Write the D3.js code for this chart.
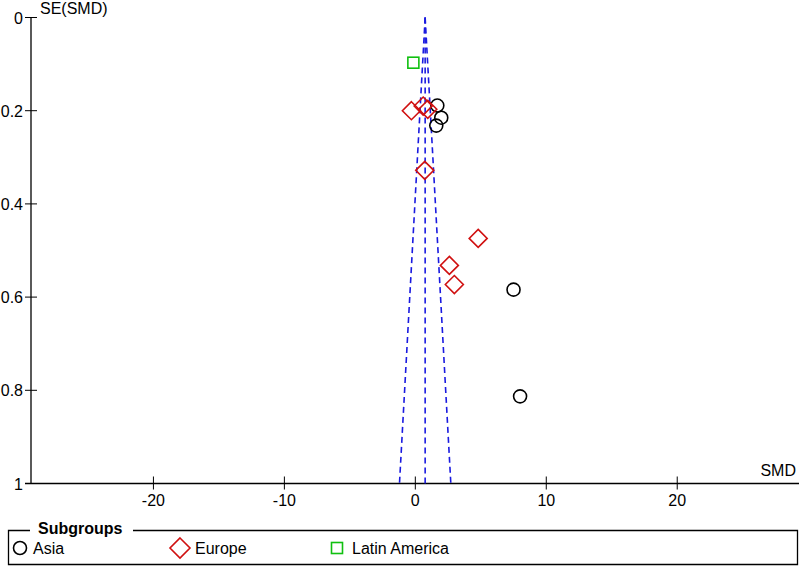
<!doctype html>
<html lang="en">
<head>
  <meta charset="utf-8">
  <script src="https://d3js.org/d3.v7.min.js"></script>
  <style>
    body { margin: 0; background: #fff; }
    text { font-family: "Liberation Sans", Arial, sans-serif; font-size: 16px; fill: #000; }
  </style>
</head>
<body>
  <script>
    var width = 800,
        height = 567;

    // studies, per subgroup: [SMD, SE(SMD)]
    var asia = [[1.68, 0.189], [1.98, 0.215], [1.6, 0.232], [7.5, 0.584], [8.0, 0.813]];
    var europe = [[-0.3, 0.200], [0.6, 0.190], [0.95, 0.197], [0.72, 0.328],
                  [4.8, 0.474], [2.6, 0.532], [2.98, 0.573]];
    var latinAmerica = [[-0.15, 0.097]];

    var pooledSMD = 0.75;
    var xTicks = [-20, -10, 0, 10, 20];
    var yTicks = [0, 0.2, 0.4, 0.6, 0.8, 1];
    var groups = ["Asia", "Europe", "Latin America"];

    var x = d3.scaleLinear().domain([-29.35, 29.3]).range([31, 799]);
    var y = d3.scaleLinear().domain([0, 1]).range([17.5, 483.5]);

    var svg = d3.select("body").append("svg")
        .attr("width", width)
        .attr("height", height);

    // axes
    var yAxis = svg.append("g").attr("transform", "translate(31,0)");
    yAxis.append("line").attr("y1", y(0)).attr("y2", y(1)).attr("stroke", "#000").attr("stroke-width", 1.3);
    yAxis.selectAll(".t").data(yTicks).enter().append("line")
        .attr("x1", -6).attr("x2", 6)
        .attr("y1", function(d) { return y(d); })
        .attr("y2", function(d) { return y(d); })
        .attr("stroke", "#000");
    yAxis.selectAll("text").data(yTicks).enter().append("text")
        .attr("x", -8)
        .attr("y", function(d) { return y(d) + 6; })
        .attr("text-anchor", "end")
        .text(function(d) { return d3.format("~g")(d); });

    var xAxis = svg.append("g").attr("transform", "translate(0," + y(1) + ")");
    xAxis.append("line").attr("x1", 25).attr("x2", 799).attr("stroke", "#000").attr("stroke-width", 1.3);
    xAxis.selectAll(".t").data(xTicks).enter().append("line")
        .attr("x1", function(d) { return x(d); })
        .attr("x2", function(d) { return x(d); })
        .attr("y1", -7).attr("y2", 6)
        .attr("stroke", "#000");
    xAxis.selectAll("text").data(xTicks).enter().append("text")
        .attr("x", function(d) { return x(d); })
        .attr("y", 22)
        .attr("text-anchor", "middle")
        .text(function(d) { return d; });

    svg.append("text").attr("x", 40).attr("y", 14).text("SE(SMD)");
    svg.append("text").attr("x", 796).attr("y", 476).attr("text-anchor", "end").text("SMD");

    // funnel
    var funnel = [
      [[pooledSMD, 0], [pooledSMD - 1.96, 1]],
      [[pooledSMD, 0], [pooledSMD, 1]],
      [[pooledSMD, 0], [pooledSMD + 1.96, 1]]
    ];
    svg.selectAll(".funnel").data(funnel).enter().append("line")
        .attr("x1", function(d) { return x(d[0][0]); })
        .attr("y1", function(d) { return y(d[0][1]); })
        .attr("x2", function(d) { return x(d[1][0]); })
        .attr("y2", function(d) { return y(d[1][1]); })
        .attr("stroke", "#1a1ae0")
        .attr("stroke-width", 1.6)
        .attr("stroke-dasharray", "6,4");

    // markers
    function drawMarker(g, kind, big) {
      var s = big ? 10 : 9;
      if (kind === "Asia") {
        g.append("circle").attr("r", 6.5).attr("fill", "none").attr("stroke", "#000").attr("stroke-width", 1.6);
      } else if (kind === "Europe") {
        g.append("path").attr("d", "M0," + -s + "L" + s + ",0L0," + s + "L" + -s + ",0Z")
            .attr("fill", "none").attr("stroke", "#d01010").attr("stroke-width", 1.6);
      } else {
        g.append("rect").attr("x", -5.5).attr("y", -5.5).attr("width", 11).attr("height", 11)
            .attr("fill", "none").attr("stroke", "#10c010").attr("stroke-width", 1.6);
      }
    }

    [[asia, "Asia"], [europe, "Europe"], [latinAmerica, "Latin America"]].forEach(function(s) {
      svg.selectAll(null).data(s[0]).enter().append("g")
          .attr("transform", function(d) { return "translate(" + x(d[0]) + "," + y(d[1]) + ")"; })
          .each(function() { drawMarker(d3.select(this), s[1], false); });
    });

    // legend
    var legend = svg.append("g");
    legend.append("path")
        .attr("d", "M30,530.5H8.5V564.5H797.5V530.5H133")
        .attr("fill", "none").attr("stroke", "#000").attr("stroke-width", 1.3);
    legend.append("text").attr("x", 38).attr("y", 534)
        .style("font-weight", "bold").text("Subgroups");
    var legendX = [20, 180, 337];
    groups.forEach(function(gName, i) {
      var g = legend.append("g").attr("transform", "translate(" + legendX[i] + ",548)");
      drawMarker(g, gName, true);
      g.append("text").attr("x", gName === "Asia" ? 13 : 15).attr("y", 6).text(gName);
    });
  </script>
</body>
</html>
